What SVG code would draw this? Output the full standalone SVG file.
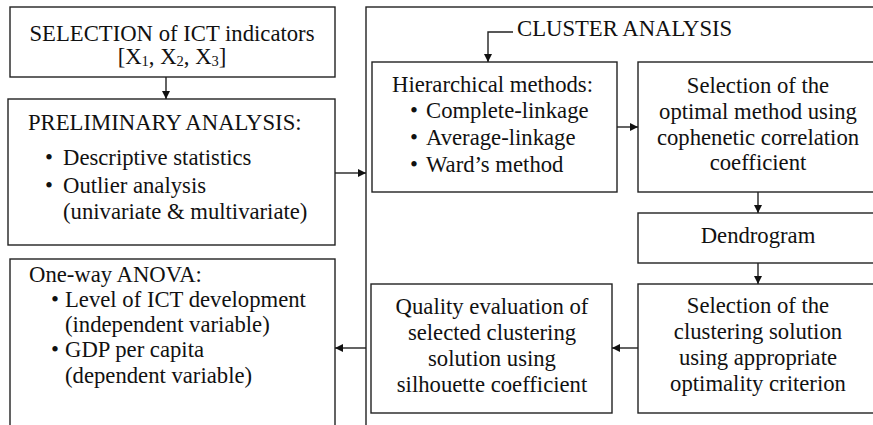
<svg xmlns="http://www.w3.org/2000/svg" width="873" height="425" viewBox="0 0 873 425">
<style>
.b{fill:#fff;stroke:#222;stroke-width:1.4}
.c{fill:none;stroke:#222;stroke-width:1.4}
text{font-family:'Liberation Serif','Times New Roman',serif;font-size:22.7px;fill:#111}
.m{text-anchor:middle}
.s{font-size:14.5px}
</style>
<defs>
<marker id="ah" viewBox="0 0 10 10" refX="10" refY="5" markerWidth="8" markerHeight="8" markerUnits="userSpaceOnUse" orient="auto">
<path d="M0,0 L10,5 L0,10 Z" fill="#111"/>
</marker>
</defs>
<rect width="873" height="425" fill="#fff"/>
<g id="cluster">
<rect class="b" x="366" y="7" width="530" height="440"/>
<text x="517" y="36">CLUSTER ANALYSIS</text>
</g>
<g id="selection">
<rect class="b" x="10" y="7" width="325" height="70"/>
<text class="m" x="172" y="41">SELECTION of ICT indicators</text>
<text class="m" x="172" y="64">[X<tspan class="s" dy="2">1</tspan><tspan dy="-2">, X</tspan><tspan class="s" dy="2">2</tspan><tspan dy="-2">, X</tspan><tspan class="s" dy="2">3</tspan><tspan dy="-2">]</tspan></text>
</g>
<g id="preliminary">
<rect class="b" x="8" y="99" width="327" height="146"/>
<text x="28" y="130">PRELIMINARY ANALYSIS:</text>
<text x="45" y="165">•<tspan x="63">Descriptive statistics</tspan></text>
<text x="45" y="193">•<tspan x="63">Outlier analysis</tspan></text>
<text x="63" y="219">(univariate &amp; multivariate)</text>
</g>
<g id="anova">
<rect class="b" x="10" y="259" width="325" height="190"/>
<text x="29" y="282">One-way ANOVA:</text>
<text x="51" y="307">•<tspan x="65">Level of ICT development</tspan></text>
<text x="65" y="332">(independent variable)</text>
<text x="51" y="357">•<tspan x="65">GDP per capita</tspan></text>
<text x="65" y="383">(dependent variable)</text>
</g>
<g id="hierarchical">
<rect class="b" x="372" y="62" width="245" height="130"/>
<text x="392" y="92">Hierarchical methods:</text>
<text x="410" y="118">•<tspan x="426">Complete-linkage</tspan></text>
<text x="410" y="145">•<tspan x="426">Average-linkage</tspan></text>
<text x="410" y="172">•<tspan x="426">Ward’s method</tspan></text>
</g>
<g id="optimal">
<rect class="b" x="638" y="62" width="260" height="130"/>
<text class="m" x="758" y="93">Selection of the</text>
<text class="m" x="758" y="119">optimal method using</text>
<text class="m" x="758" y="145">cophenetic correlation</text>
<text class="m" x="758" y="170">coefficient</text>
</g>
<g id="dendrogram">
<rect class="b" x="638" y="213" width="260" height="50"/>
<text class="m" x="758" y="243">Dendrogram</text>
</g>
<g id="solution">
<rect class="b" x="638" y="284" width="260" height="129"/>
<text class="m" x="758" y="313">Selection of the</text>
<text class="m" x="758" y="339">clustering solution</text>
<text class="m" x="758" y="365">using appropriate</text>
<text class="m" x="758" y="391">optimality criterion</text>
</g>
<g id="quality">
<rect class="b" x="371" y="284" width="241" height="129"/>
<text class="m" x="492" y="314">Quality evaluation of</text>
<text class="m" x="492" y="340">selected clustering</text>
<text class="m" x="492" y="366">solution using</text>
<text class="m" x="492" y="392">silhouette coefficient</text>
</g>
<g id="connectors">
<path class="c" d="M166,77 V99" marker-end="url(#ah)"/>
<path class="c" d="M335,173 H366" marker-end="url(#ah)"/>
<path class="c" d="M366,348 H335" marker-end="url(#ah)"/>
<path class="c" d="M513,32 H488 V62" marker-end="url(#ah)"/>
<path class="c" d="M617,127 H638" marker-end="url(#ah)"/>
<path class="c" d="M758,192 V213" marker-end="url(#ah)"/>
<path class="c" d="M758,263 V284" marker-end="url(#ah)"/>
<path class="c" d="M638,348 H612" marker-end="url(#ah)"/>
</g>
</svg>
